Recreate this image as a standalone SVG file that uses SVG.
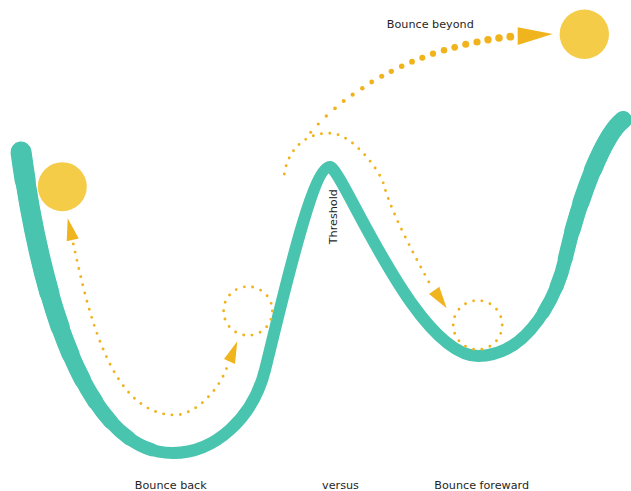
<svg xmlns="http://www.w3.org/2000/svg" width="631" height="491" viewBox="0 0 631 491">
  <style>
    .track { fill: none; stroke: #48C4AF; stroke-linecap: round; stroke-linejoin: round; }
    .ball { fill: #F5CC47; }
    .dots { fill: none; stroke: #F0B31B; stroke-width: 2.9; stroke-linecap: round; stroke-dasharray: 0 8.4; }
    .ring { fill: none; stroke: #F0B31B; stroke-width: 2.9; stroke-linecap: round; stroke-dasharray: 0 8.5; }
    .head { fill: #F0B41E; }
    .grow { fill: #F0B31B; }
    .label { font-family: "DejaVu Sans", "Liberation Sans", sans-serif; font-size: 11.2px; fill: #1f1f1f; text-anchor: middle; }
  </style>
  <defs>
    <path id="track-path" d="M21,152 C42,305 88,453 173,453 C215,453 253,418 265,370 C283,298 312,167 330,167 C342,167 415,356 478,356 C530,356 558,292 565,260 C576,210 601,137 623,120"/>
    <path id="left-arm" pathLength="100" d="M21,152 C42,305 88,453 173,453"/>
    <path id="right-arm" pathLength="100" d="M623,120 C601,137 576,210 565,260 C558,292 530,356 478,356"/>
  </defs>

  <!-- the landscape: one stroke, thickened towards both ends -->
  <g id="landscape">
    <use href="#track-path" class="track" stroke-width="12"/>
    <use href="#left-arm" class="track" stroke-width="13" stroke-dasharray="94 1000"/>
    <use href="#left-arm" class="track" stroke-width="14" stroke-dasharray="87 1000"/>
    <use href="#left-arm" class="track" stroke-width="15" stroke-dasharray="80 1000"/>
    <use href="#left-arm" class="track" stroke-width="16" stroke-dasharray="73 1000"/>
    <use href="#left-arm" class="track" stroke-width="17" stroke-dasharray="66 1000"/>
    <use href="#left-arm" class="track" stroke-width="18" stroke-dasharray="58 1000"/>
    <use href="#left-arm" class="track" stroke-width="19" stroke-dasharray="50 1000"/>
    <use href="#left-arm" class="track" stroke-width="20" stroke-dasharray="40 1000"/>
    <use href="#left-arm" class="track" stroke-width="21" stroke-dasharray="8 1000"/>
    <use href="#right-arm" class="track" stroke-width="13" stroke-dasharray="72 1000"/>
    <use href="#right-arm" class="track" stroke-width="14" stroke-dasharray="62 1000"/>
    <use href="#right-arm" class="track" stroke-width="15" stroke-dasharray="52 1000"/>
    <use href="#right-arm" class="track" stroke-width="16" stroke-dasharray="42 1000"/>
    <use href="#right-arm" class="track" stroke-width="17" stroke-dasharray="32 1000"/>
    <use href="#right-arm" class="track" stroke-width="18" stroke-dasharray="20 1000"/>
  </g>

  <g id="ball-start">
    <circle class="ball" cx="62.3" cy="186.7" r="24.5"/>
  </g>

  <g id="ball-beyond">
    <circle class="ball" cx="584.3" cy="34.3" r="24.7"/>
  </g>

  <g id="ring-back">
    <circle class="ring" cx="248" cy="311" r="24.4"/>
  </g>

  <g id="ring-forward">
    <circle class="ring" cx="477.7" cy="325" r="24.5"/>
  </g>

  <g id="connectors">
    <!-- bounce back: rolls down from the ball and back up towards the left ring -->
    <path class="dots" d="M73.3,244 C88,310 110,415 175,415 C195,415 220,390 228,364.3"/>
    <polygon class="head" points="67.7,218.3 66.7,241.3 78.7,238.6"/>
    <polygon class="head" points="237.3,341.3 224,359 235,364"/>

    <!-- bounce forward: over the threshold into the right valley -->
    <path class="dots" d="M284.3,174 C288,150 305,132 331.3,133.3 C352,134 380,170 384,185.3 C392,215 418,262 431,286"/>
    <polygon class="head" points="446.7,308.3 429,294 439.3,286.7"/>

    <!-- bounce beyond: dots swelling along the upper arc -->
    <g id="beyond-arc" class="grow">
      <circle cx="310.7" cy="132.3" r="1.5"/>
      <circle cx="318.3" cy="124" r="1.6"/>
      <circle cx="326.3" cy="116" r="1.7"/>
      <circle cx="335" cy="108.3" r="1.85"/>
      <circle cx="343.7" cy="101" r="2"/>
      <circle cx="352.7" cy="94.7" r="2.1"/>
      <circle cx="362.3" cy="88.3" r="2.25"/>
      <circle cx="371.7" cy="82" r="2.4"/>
      <circle cx="381.7" cy="76.3" r="2.5"/>
      <circle cx="391.3" cy="71.3" r="2.65"/>
      <circle cx="401.7" cy="66.3" r="2.75"/>
      <circle cx="412" cy="61.7" r="2.9"/>
      <circle cx="422.3" cy="57.7" r="3"/>
      <circle cx="433" cy="53.7" r="3.1"/>
      <circle cx="444" cy="50.3" r="3.25"/>
      <circle cx="454.7" cy="47.3" r="3.35"/>
      <circle cx="465.7" cy="44.3" r="3.5"/>
      <circle cx="477" cy="42" r="3.6"/>
      <circle cx="488" cy="39.7" r="3.7"/>
      <circle cx="499" cy="38" r="3.8"/>
      <circle cx="510.3" cy="36.7" r="3.9"/>
    </g>
    <polygon class="head" points="517.7,27.3 552.7,34 517.7,45"/>
  </g>

  <g id="labels">
    <text class="label" x="430.3" y="28.3">Bounce beyond</text>
    <text class="label" transform="translate(336.5,216.7) rotate(-90)">Threshold</text>
    <text class="label" x="170.8" y="488.5">Bounce back</text>
    <text class="label" x="340.5" y="488.5">versus</text>
    <text class="label" x="481.7" y="488.5">Bounce foreward</text>
  </g>
</svg>
